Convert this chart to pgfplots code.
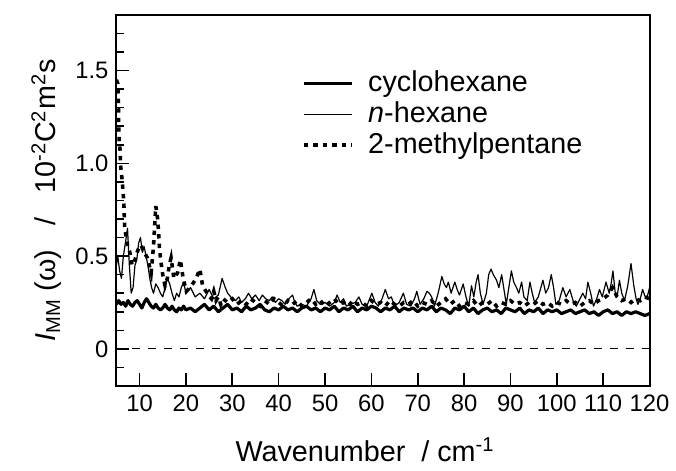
\documentclass[border=0pt]{standalone}
\usepackage{pgfplots}
\pgfplotsset{compat=1.18}
\usetikzlibrary{calc}
\usepackage{fontspec}
\setmainfont{Liberation Sans}

\pgfplotstableread{
x y
5 0.24
5.5 0.26
6 0.24
6.5 0.25
7 0.23
7.5 0.26
8 0.24
8.5 0.23
9 0.25
9.5 0.26
10 0.24
10.5 0.22
11 0.25
11.5 0.27
12 0.25
12.5 0.23
13 0.22
13.5 0.24
14 0.22
14.5 0.21
15 0.22
15.5 0.24
16 0.22
16.5 0.21
17 0.23
17.5 0.21
18 0.20
18.5 0.22
19 0.21
19.5 0.23
20 0.21
21 0.22
22 0.20
23 0.22
24 0.24
25 0.21
26 0.23
27 0.20
28 0.22
29 0.24
30 0.21
31 0.22
32 0.20
33 0.23
34 0.21
35 0.22
36 0.24
37 0.21
38 0.20
39 0.22
40 0.21
41 0.23
42 0.21
43 0.22
44 0.20
45 0.22
46 0.23
47 0.21
48 0.22
49 0.20
50 0.22
51 0.21
52 0.23
53 0.20
54 0.22
55 0.21
56 0.23
57 0.20
58 0.22
59 0.21
60 0.23
61 0.22
62 0.20
63 0.22
64 0.21
65 0.23
66 0.20
67 0.22
68 0.21
69 0.22
70 0.20
71 0.22
72 0.21
73 0.23
74 0.20
75 0.22
76 0.21
77 0.19
78 0.22
79 0.21
80 0.23
81 0.20
82 0.22
83 0.19
84 0.21
85 0.22
86 0.20
87 0.21
88 0.19
89 0.22
90 0.21
91 0.20
92 0.22
93 0.19
94 0.21
95 0.20
96 0.22
97 0.19
98 0.21
99 0.20
100 0.21
101 0.19
102 0.20
103 0.21
104 0.19
105 0.20
106 0.21
107 0.19
108 0.20
109 0.18
110 0.20
111 0.21
112 0.19
113 0.20
114 0.18
115 0.20
116 0.19
117 0.20
118 0.19
119 0.18
120 0.19
}\cyclo

\pgfplotstableread{
x y
5.0 0.45
5.3 0.50
5.7 0.42
6.1 0.38
6.5 0.50
7.0 0.58
7.4 0.65
7.8 0.45
8.2 0.30
8.6 0.33
9.0 0.45
9.4 0.48
9.8 0.57
10.2 0.60
10.6 0.52
11.0 0.55
11.4 0.50
11.8 0.45
12.2 0.38
12.6 0.33
13.0 0.30
13.5 0.35
14.0 0.33
14.5 0.30
15.0 0.28
15.5 0.33
16.0 0.38
16.5 0.35
17.0 0.30
17.5 0.26
18.0 0.30
18.5 0.28
19.0 0.33
19.5 0.36
20.0 0.30
21.0 0.33
22.0 0.28
23.0 0.30
24.0 0.27
25.0 0.32
26.0 0.27
27.0 0.29
27.8 0.38
28.5 0.33
29.0 0.30
30.0 0.27
30.7 0.26
31.4 0.28
32.0 0.25
32.8 0.27
33.5 0.30
34.2 0.27
35.0 0.29
35.8 0.26
36.5 0.29
37.2 0.27
38.0 0.26
38.6 0.28
39.3 0.25
40.0 0.27
40.7 0.26
41.4 0.24
42.2 0.27
43 0.29
43.5 0.25
44 0.23
45 0.24
46 0.23
47 0.27
47.6 0.32
48.2 0.26
49 0.24
50 0.25
51 0.23
52 0.25
52.6 0.29
53.3 0.25
54 0.27
54.6 0.23
55.5 0.24
56.5 0.25
57.3 0.28
58 0.24
59 0.23
60.1 0.30
60.8 0.25
61.5 0.23
62.3 0.27
63 0.32
63.7 0.27
64.3 0.28
65 0.23
66 0.25
66.9 0.30
67.6 0.24
68.5 0.23
69.3 0.27
69.8 0.31
70.5 0.24
71.3 0.27
72 0.31
72.5 0.30
73 0.28
73.6 0.23
74.4 0.30
75.2 0.39
75.7 0.35
76.2 0.33
76.6 0.36
77.2 0.30
78 0.36
78.5 0.32
79 0.29
79.8 0.35
80.4 0.28
81 0.23
81.6 0.34
82.1 0.28
82.6 0.36
83.0 0.40
83.5 0.30
84.1 0.24
84.8 0.30
85.3 0.40
85.8 0.43
86.3 0.40
87 0.37
87.5 0.33
88.1 0.40
88.6 0.32
89.1 0.24
89.7 0.34
90.2 0.42
90.7 0.36
91.3 0.33
91.8 0.30
92.4 0.36
92.9 0.28
93.6 0.26
94.2 0.36
94.7 0.30
95.2 0.25
96 0.28
97 0.37
97.6 0.30
98.2 0.33
98.8 0.40
99.3 0.33
99.8 0.24
100.5 0.26
101.3 0.33
102 0.28
102.8 0.32
103.5 0.26
104.2 0.23
105 0.27
105.6 0.30
106.2 0.27
106.7 0.36
107.3 0.30
107.9 0.23
108.6 0.27
109.2 0.32
109.8 0.28
110.6 0.36
111.3 0.30
111.7 0.35
112.1 0.42
112.6 0.30
113 0.28
113.5 0.37
114 0.30
114.6 0.26
115.3 0.34
116.0 0.46
116.6 0.34
117.1 0.27
117.5 0.24
118 0.27
118.5 0.32
119.2 0.27
119.6 0.29
120 0.33
}\nhex

\pgfplotstableread{
x y
5.0 1.45
5.3 1.43
5.4 1.36
5.5 1.29
5.5 1.22
5.6 1.13
5.8 1.07
5.9 0.99
6.2 0.92
6.4 0.86
6.6 0.79
6.7 0.72
6.8 0.65
7.4 0.56
7.9 0.52
8.4 0.45
9.0 0.48
9.6 0.53
10.3 0.56
11.0 0.52
11.7 0.49
12.5 0.41
13.0 0.55
13.5 0.77
13.9 0.70
14.1 0.63
14.3 0.54
14.6 0.47
15.0 0.40
15.5 0.34
16.0 0.38
16.4 0.45
16.8 0.49
17.4 0.38
18.2 0.41
18.8 0.48
19.4 0.38
20.1 0.31
21.2 0.34
22.2 0.38
23.0 0.43
23.6 0.34
24.8 0.29
25.5 0.27
26 0.31
26.5 0.26
27 0.28
27.5 0.24
28 0.27
29 0.25
30 0.27
31 0.24
32 0.26
33 0.24
34 0.27
35 0.25
36 0.23
37 0.26
38 0.24
39 0.27
40 0.25
41 0.23
42 0.26
43 0.24
44 0.26
45 0.23
46 0.25
47 0.27
48 0.24
49 0.26
50 0.23
51 0.25
52 0.27
53 0.24
54 0.25
55 0.23
56 0.26
57 0.24
58 0.25
59 0.23
60 0.26
61 0.24
62 0.25
63 0.23
64 0.26
65 0.24
66 0.23
67 0.25
68 0.24
69 0.26
70 0.23
71 0.25
72 0.24
73 0.26
74 0.23
75 0.25
76 0.27
77 0.24
78 0.26
79 0.23
80 0.25
81 0.24
82 0.26
83 0.23
84 0.25
85 0.24
86 0.26
87 0.23
88 0.25
89 0.24
90 0.26
91 0.24
92 0.25
93 0.23
94 0.25
95 0.24
96 0.26
97 0.24
98 0.25
99 0.23
100 0.25
101 0.24
102 0.26
103 0.24
104 0.25
105 0.23
106 0.25
107 0.26
108 0.24
109 0.26
110 0.27
111 0.29
112 0.33
113 0.28
114 0.26
115 0.27
116 0.25
117 0.27
118 0.26
119 0.28
120 0.27
}\mpent

\begin{document}
\begin{tikzpicture}
\begin{axis}[
  name=ax,
  scale only axis,
  width=268bp, height=186.5bp,
  xmin=5, xmax=120, ymin=-0.2, ymax=1.8,
  axis line style={line width=1bp},
  xtick={10,20,...,120},
  ytick={0,0.5,1.0,1.5},
  yticklabels={0,0.5,1.0,1.5},
  minor ytick={-0.1,0.1,0.2,0.3,0.4,0.6,0.7,0.8,0.9,1.1,1.2,1.3,1.4,1.6,1.7},
  xtick pos=bottom, ytick pos=left,
  tick align=inside,
  major tick length=6.5bp, minor tick length=4bp,
  tick style={line width=0.8bp, black},
  /pgf/number format/assume math mode=true,
  tick label style={font=\fontsize{12}{13}\selectfont},
  xticklabel style={yshift=-1bp},
  yticklabel style={xshift=-0.5bp},
  label style={font=\fontsize{14.5}{16}\selectfont},
  xlabel={Wavenumber\ \ /\ cm\textsuperscript{-1}},
  ylabel={\textit{I}\textsubscript{MM}\ (ω)\ \ \ /\ \ \ 10\textsuperscript{-2}C\textsuperscript{2}m\textsuperscript{2}s},
  xlabel style={yshift=-6bp, xshift=-9bp},
  legend cell align=left,
  legend style={draw=none, fill=none, at={(0.347,0.857)}, anchor=north west,
    font=\fontsize{14.5}{15}\selectfont, row sep=0pt, inner sep=0pt,
    nodes={inner sep=0.6bp, text height=11.2bp, text depth=3bp},
    /tikz/every odd column/.append style={column sep=6.5bp}},
  legend image code/.code={\draw[#1] (0bp,0bp) -- (24.5bp,0bp);},
]
\addplot[black, line width=0.6bp, dash pattern=on 4bp off 4bp, forget plot] coordinates {(5,0) (120,0)};
\addplot[black, line width=1.6bp, line join=round] table {\cyclo};
\addlegendentry{cyclohexane}
\addplot[black, line width=0.6bp, line join=round] table {\nhex};
\addlegendentry{\textit{n}-hexane}
\addplot[black, line width=1.8bp, dash pattern=on 2.2bp off 2.6bp] table {\mpent};
\addlegendentry{2-methylpentane}
\end{axis}
\path (ax.south west) ++(-58.5bp,-42.5bp) rectangle ($(ax.north east)+(11.5bp,7.5bp)$);
\end{tikzpicture}
\end{document}
